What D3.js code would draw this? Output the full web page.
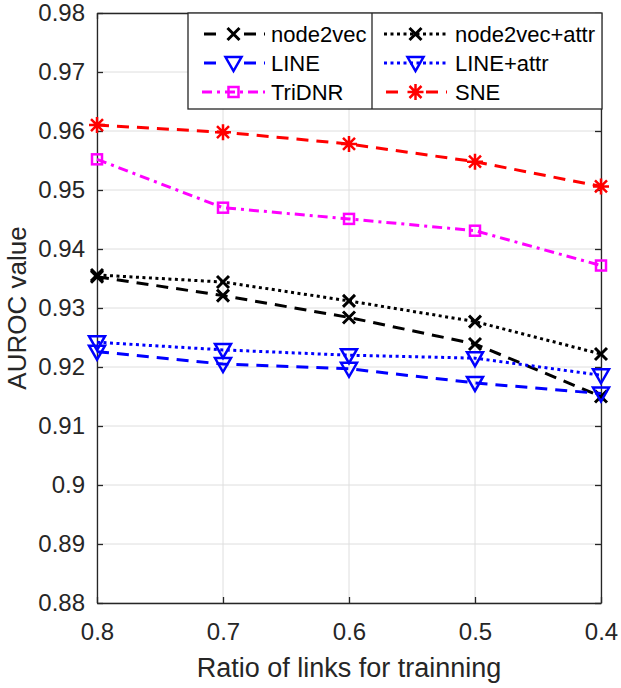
<!DOCTYPE html>
<html>
<head>
<meta charset="utf-8">
<script src="https://cdn.jsdelivr.net/npm/d3@7"></script>
<style>
  body { margin: 0; background: #fff; }
  svg { font-family: "Liberation Sans", Arial, Helvetica, sans-serif; }
</style>
</head>
<body>
<div id="chart"></div>
<script>
const ratios = [0.8, 0.7, 0.6, 0.5, 0.4];
const yTicks = [0.88, 0.89, 0.9, 0.91, 0.92, 0.93, 0.94, 0.95, 0.96, 0.97, 0.98];
const yTickLabels = ["0.88", "0.89", "0.9", "0.91", "0.92", "0.93", "0.94", "0.95", "0.96", "0.97", "0.98"];
const xTickLabels = ["0.8", "0.7", "0.6", "0.5", "0.4"];

const node2vec     = [0.9353, 0.9321, 0.9284, 0.9239, 0.9150];
const node2vecAttr = [0.9356, 0.9344, 0.9312, 0.9277, 0.9222];
const line         = [0.9226, 0.9205, 0.9197, 0.9173, 0.9155];
const lineAttr     = [0.9242, 0.9229, 0.9220, 0.9215, 0.9186];
const tridnr       = [0.9552, 0.9470, 0.9451, 0.9431, 0.9372];
const sne          = [0.9610, 0.9598, 0.9578, 0.9548, 0.9506];

const series = [
  { name: "node2vec", values: node2vec, color: "#000000", dash: "12,8", marker: "x" },
  { name: "LINE", values: line, color: "#0000ff", dash: "12,8", marker: "v" },
  { name: "TriDNR", values: tridnr, color: "#ff00ff", dash: "10,5,3,5", marker: "s" },
  { name: "node2vec+attr", values: node2vecAttr, color: "#000000", dash: "3,3.5", marker: "x" },
  { name: "LINE+attr", values: lineAttr, color: "#0000ff", dash: "3,3.5", marker: "v" },
  { name: "SNE", values: sne, color: "#ff0000", dash: "12,8", marker: "*" }
];

const W = 621, H = 688;
const plotL = 97, plotR = 601, plotT = 13, plotB = 603;

const svg = d3.select("#chart").append("svg")
  .attr("width", W)
  .attr("height", H);

const x = d3.scaleLinear().domain([0.8, 0.4]).range([plotL, plotR]);
const y = d3.scaleLinear().domain([0.88, 0.98]).range([plotB, plotT]);

// grid
svg.append("g").selectAll("line")
  .data(yTicks)
  .enter().append("line")
  .attr("x1", plotL).attr("x2", plotR)
  .attr("y1", d => y(d)).attr("y2", d => y(d))
  .attr("stroke", "#dedede").attr("stroke-width", 1);
svg.append("g").selectAll("line")
  .data(ratios)
  .enter().append("line")
  .attr("x1", d => x(d)).attr("x2", d => x(d))
  .attr("y1", plotT).attr("y2", plotB)
  .attr("stroke", "#dedede").attr("stroke-width", 1);

// axes (ticks inward)
const axisColor = "#262626";
const yAxisL = d3.axisLeft(y).tickValues(yTicks).tickFormat((d, i) => yTickLabels[i]).tickSizeInner(-6).tickSizeOuter(0).tickPadding(12);
const yAxisR = d3.axisRight(y).tickValues(yTicks).tickFormat("").tickSizeInner(-6).tickSizeOuter(0);
const xAxisB = d3.axisBottom(x).tickValues(ratios).tickFormat((d, i) => xTickLabels[i]).tickSizeInner(-6).tickSizeOuter(0).tickPadding(20);
const xAxisT = d3.axisTop(x).tickValues(ratios).tickFormat("").tickSizeInner(-6).tickSizeOuter(0);

function styleAxis(g) {
  g.select(".domain").attr("stroke", axisColor).attr("stroke-width", 1.3);
  g.selectAll(".tick line").attr("stroke", axisColor).attr("stroke-width", 1.3);
  g.selectAll(".tick text").attr("fill", "#262626").style("font-size", "24px")
    .style("font-family", "'Liberation Sans', Arial, sans-serif");
}

svg.append("g").attr("transform", `translate(${plotL},0)`).call(yAxisL).call(styleAxis);
svg.append("g").attr("transform", `translate(${plotR},0)`).call(yAxisR).call(styleAxis);
svg.append("g").attr("transform", `translate(0,${plotB})`).call(xAxisB).call(styleAxis);
svg.append("g").attr("transform", `translate(0,${plotT})`).call(xAxisT).call(styleAxis);

// axis labels
svg.append("text")
  .attr("x", (plotL + plotR) / 2)
  .attr("y", 677)
  .attr("text-anchor", "middle")
  .style("font-size", "27px")
  .attr("fill", "#262626")
  .text("Ratio of links for trainning");

svg.append("text")
  .attr("transform", `translate(26,${(plotT + plotB) / 2}) rotate(-90)`)
  .attr("text-anchor", "middle")
  .style("font-size", "26px")
  .attr("fill", "#262626")
  .text("AUROC value");

// markers
function drawMarker(g, type, color) {
  if (type === "x") {
    g.append("path").attr("d", "M-6,-6L6,6M-6,6L6,-6")
      .attr("stroke", color).attr("stroke-width", 3).attr("fill", "none");
  } else if (type === "v") {
    g.append("path").attr("d", "M-8,-6L8,-6L0,8Z")
      .attr("stroke", color).attr("stroke-width", 2.5).attr("fill", "none");
  } else if (type === "s") {
    g.append("rect").attr("x", -5).attr("y", -5).attr("width", 10).attr("height", 10)
      .attr("stroke", color).attr("stroke-width", 2.5).attr("fill", "none");
  } else if (type === "*") {
    g.append("path").attr("d", "M-8,0L8,0M0,-8L0,8M-6,-6L6,6M-6,6L6,-6")
      .attr("stroke", color).attr("stroke-width", 2.5).attr("fill", "none");
  }
}

const lineGen = d3.line().x((d, i) => x(ratios[i])).y(d => y(d));

series.forEach(s => {
  svg.append("path")
    .datum(s.values)
    .attr("d", lineGen)
    .attr("fill", "none")
    .attr("stroke", s.color)
    .attr("stroke-width", 3)
    .attr("stroke-dasharray", s.dash);
  s.values.forEach((v, i) => {
    const g = svg.append("g").attr("transform", `translate(${x(ratios[i])},${y(v)})`);
    drawMarker(g, s.marker, s.color);
  });
});

// legend
const lgX0 = 188, lgX1 = 602, lgMid = 372, lgY0 = 13, lgY1 = 109;
const legend = svg.append("g");
legend.append("rect")
  .attr("x", lgX0).attr("y", lgY0)
  .attr("width", lgX1 - lgX0).attr("height", lgY1 - lgY0)
  .attr("fill", "#fff").attr("stroke", axisColor).attr("stroke-width", 1.3);
legend.append("line")
  .attr("x1", lgMid).attr("x2", lgMid).attr("y1", lgY0).attr("y2", lgY1)
  .attr("stroke", axisColor).attr("stroke-width", 1.3);

const rowY = [34, 63, 92];
const cols = [
  { l0: 202, l1: 265, tx: 271 },
  { l0: 384, l1: 447, tx: 455 }
];
series.forEach((s, i) => {
  const c = cols[Math.floor(i / 3)];
  const ry = rowY[i % 3];
  legend.append("line")
    .attr("x1", c.l0).attr("x2", c.l1).attr("y1", ry).attr("y2", ry)
    .attr("stroke", s.color).attr("stroke-width", 3)
    .attr("stroke-dasharray", s.dash)
    .attr("stroke-dashoffset", s.dash === "12,8" ? -2 : 0);
  const g = legend.append("g").attr("transform", `translate(${(c.l0 + c.l1) / 2},${ry})`);
  g.append("rect").attr("x", -10).attr("y", -9).attr("width", 20).attr("height", 18).attr("fill", s.dash === "12,8" ? "#fff" : "none");
  drawMarker(g, s.marker, s.color);
  legend.append("text")
    .attr("x", c.tx).attr("y", ry + 8)
    .style("font-size", "22px")
    .attr("fill", "#000")
    .text(s.name);
});
</script>
</body>
</html>
